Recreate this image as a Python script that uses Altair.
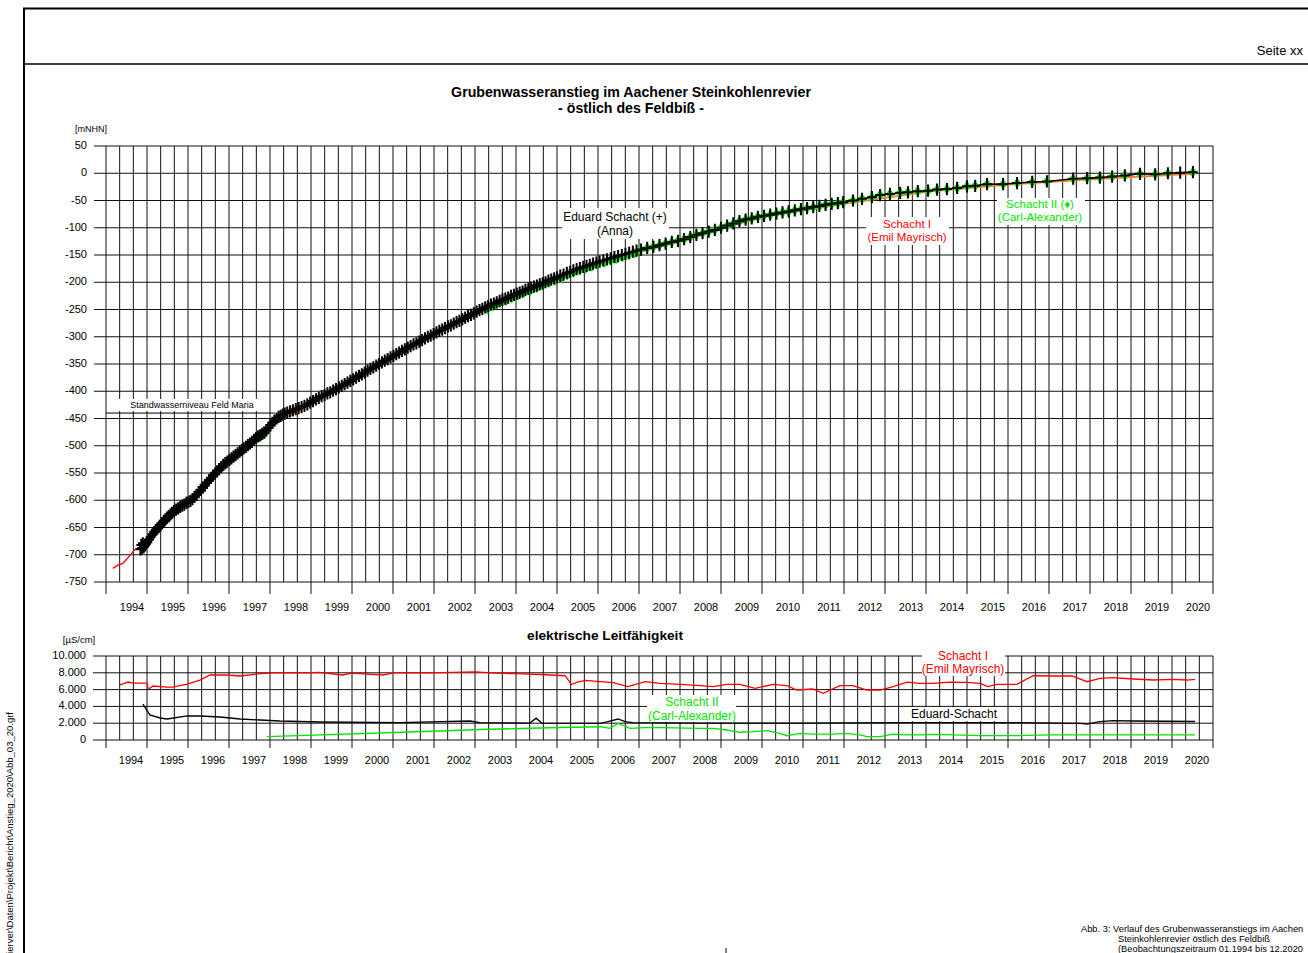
import altair as alt
import pandas as pd

# ---------------- data ----------------
# Water level, Eduard Schacht (Anna)  (+ markers)  [mNHN]
ED_YEAR = [1994.84, 1994.86, 1994.88, 1994.90, 1994.92, 1994.95, 1994.98, 1995.01, 1995.05, 1995.09,
           1995.13, 1995.17, 1995.21, 1995.25, 1995.29, 1995.33, 1995.37, 1995.41, 1995.45, 1995.49,
           1995.53, 1995.57, 1995.61, 1995.66, 1995.71, 1995.76, 1995.81, 1995.86, 1995.91, 1995.96,
           1996.01, 1996.06, 1996.11, 1996.16, 1996.21, 1996.26, 1996.31, 1996.36, 1996.41, 1996.46,
           1996.51, 1996.56, 1996.61, 1996.66, 1996.71, 1996.76, 1996.81, 1996.86, 1996.91, 1996.96,
           1997.01, 1997.06, 1997.11, 1997.16, 1997.21, 1997.26, 1997.31, 1997.36, 1997.41, 1997.46,
           1997.51, 1997.56, 1997.61, 1997.66, 1997.71, 1997.76, 1997.81, 1997.86, 1997.91, 1997.96,
           1998.01, 1998.06, 1998.11, 1998.16, 1998.21, 1998.26, 1998.31, 1998.36, 1998.42, 1998.49,
           1998.56, 1998.63, 1998.70, 1998.77, 1998.84, 1998.91, 1998.98, 1999.05, 1999.12, 1999.19,
           1999.26, 1999.33, 1999.40, 1999.47, 1999.54, 1999.61, 1999.68, 1999.75, 1999.82, 1999.89,
           1999.96, 2000.03, 2000.10, 2000.17, 2000.24, 2000.31, 2000.38, 2000.45, 2000.52, 2000.59,
           2000.66, 2000.73, 2000.80, 2000.87, 2000.94, 2001.01, 2001.08, 2001.15, 2001.22, 2001.29,
           2001.36, 2001.43, 2001.50, 2001.57, 2001.64, 2001.71, 2001.78, 2001.85, 2001.92, 2001.99,
           2002.06, 2002.13, 2002.20, 2002.27, 2002.34, 2002.41, 2002.48, 2002.55, 2002.62, 2002.69,
           2002.76, 2002.83, 2002.90, 2002.97, 2003.04, 2003.11, 2003.18, 2003.25, 2003.32, 2003.39,
           2003.46, 2003.53, 2003.60, 2003.67, 2003.74, 2003.81, 2003.88, 2003.95, 2004.02, 2004.09,
           2004.16, 2004.23, 2004.30, 2004.37, 2004.44, 2004.51, 2004.58, 2004.65, 2004.72, 2004.79,
           2004.86, 2004.93, 2005.00, 2005.08, 2005.16, 2005.24, 2005.32, 2005.40, 2005.48, 2005.56,
           2005.64, 2005.72, 2005.80, 2005.88, 2005.96, 2006.04, 2006.13, 2006.22, 2006.31, 2006.40,
           2006.49, 2006.58, 2006.67, 2006.76, 2006.85, 2006.94, 2007.05, 2007.20, 2007.35, 2007.50,
           2007.65, 2007.80, 2007.95, 2008.10, 2008.25, 2008.40, 2008.55, 2008.70, 2008.85, 2009.00,
           2009.15, 2009.30, 2009.45, 2009.60, 2009.75, 2009.90, 2010.05, 2010.20, 2010.35, 2010.50,
           2010.65, 2010.80, 2010.95, 2011.10, 2011.25, 2011.40, 2011.55, 2011.70, 2011.85, 2011.98,
           2012.22, 2012.44, 2012.68, 2012.88, 2013.12, 2013.37, 2013.56, 2013.80, 2014.05, 2014.27,
           2014.51, 2014.76, 2015.00, 2015.20, 2015.49, 2015.88, 2016.22, 2016.59, 2016.95, 2017.59,
           2017.93, 2018.24, 2018.54, 2018.85, 2019.22, 2019.59, 2019.90, 2020.20, 2020.51]
ED_LEVEL = [-690, -682, -688, -679, -686, -683, -680, -677, -672, -667,
            -663, -659, -655, -652, -649, -646, -642, -638, -635, -632,
            -629, -626, -623, -620, -617, -615, -612, -610, -608, -605,
            -603, -601, -598, -594, -590, -585, -581, -577, -573, -568,
            -563, -559, -555, -551, -547, -543, -539, -535, -532, -529,
            -526, -523, -520, -517, -514, -511, -508, -505, -502, -499,
            -496, -493, -489, -486, -483, -481, -478, -476, -472, -467,
            -462, -458, -454, -450, -447, -445, -443, -441, -439, -437,
            -435, -433, -431, -429, -427, -424, -421, -418, -415, -412,
            -409, -407, -404, -402, -399, -396, -393, -390, -387, -384,
            -381, -378, -375, -372, -369, -366, -362, -359, -356, -353,
            -350, -347, -344, -341, -338, -335, -332, -329, -326, -323,
            -320, -317, -314, -312, -309, -306, -303, -300, -298, -295,
            -292, -289, -287, -284, -281, -279, -276, -273, -271, -268,
            -265, -262, -260, -257, -254, -251, -249, -246, -244, -241,
            -239, -237, -234, -232, -230, -228, -225, -223, -221, -219,
            -217, -214, -212, -210, -208, -206, -204, -202, -200, -197,
            -195, -193, -191, -188, -186, -183, -181, -178, -176, -174,
            -172, -170, -168, -166, -164, -162, -160, -158, -156, -154,
            -152, -150, -148, -146, -144, -142, -140, -137, -135, -132,
            -129, -126, -124, -121, -117, -113, -110, -107, -104, -100,
            -96, -92, -88, -85, -83, -80, -78, -76, -74, -72,
            -70, -68, -66, -64, -62, -60, -58, -56, -55, -53,
            -50, -47, -44, -40, -38, -36, -35, -33, -32, -30,
            -29, -27, -24, -23, -20, -20, -18, -16, -15, -10,
            -9, -8, -6, -4, -1, -2, 0, 1, 2]

# Schacht II (Carl-Alexander)  (diamonds)
CA_YEAR = [1997.78, 1997.83, 1997.88,
           2003.30, 2003.45, 2003.60, 2003.75, 2003.90, 2004.05, 2004.20, 2004.35, 2004.50, 2004.65,
           2004.80, 2004.95, 2005.10, 2005.25, 2005.40, 2005.55, 2005.70, 2005.85, 2006.00, 2006.15,
           2006.30, 2006.45, 2006.60, 2006.75, 2006.90,
           2007.05, 2007.20, 2007.35, 2007.50, 2007.65, 2007.80, 2007.95, 2008.10, 2008.25, 2008.40,
           2008.55, 2008.70, 2008.85, 2009.00, 2009.15, 2009.30, 2009.45, 2009.60, 2009.75, 2009.90,
           2010.05, 2010.20, 2010.35, 2010.50, 2010.65, 2010.80, 2010.95, 2011.10, 2011.25, 2011.40,
           2011.55, 2011.70, 2011.85, 2011.98, 2012.22, 2012.44, 2012.68, 2012.88, 2013.12, 2013.37,
           2013.56, 2013.80, 2014.05, 2014.27, 2014.51, 2014.76, 2015.00, 2015.20, 2015.49, 2015.88,
           2016.22, 2016.59, 2016.95, 2017.59, 2017.93, 2018.24, 2018.54, 2018.85, 2019.22, 2019.59,
           2019.90, 2020.51]
CA_LEVEL = [-482, -479, -477,
            -249, -244, -238, -234, -229, -224, -219, -215, -210, -206,
            -201, -197, -192, -187, -182, -178, -175, -171, -167, -164,
            -160, -157, -153, -150, -147,
            -140, -137, -135, -132, -129, -126, -124, -121, -117, -113,
            -110, -107, -104, -100, -96, -92, -88, -85, -83, -80,
            -78, -76, -74, -72, -70, -68, -66, -64, -62, -60,
            -58, -56, -55, -53, -50, -47, -44, -40, -38, -36,
            -35, -33, -32, -30, -29, -27, -24, -23, -20, -20,
            -18, -16, -15, -10, -9, -8, -6, -4, -1, -2,
            0, 2]

# Schacht I (Emil Mayrisch): early red record and later line
EM_RED_YEAR = [1994.17, 1994.29, 1994.41, 1994.54, 1994.63, 1994.71, 1994.83]
EM_RED_LEVEL = [-725, -719, -716, -705, -697, -690, -686]
EM_YEAR = [1994.85, 1996.0, 1998.0, 2000.0, 2002.0, 2004.0, 2006.0, 2008.0, 2010.0, 2012.0,
           2014.0, 2016.0, 2018.0, 2020.5]
EM_LEVEL = [-687, -605, -465, -381, -296, -224, -165, -125, -80, -56, -34, -21, -11, -1]

# Standwasserniveau Feld Maria
MARIA_LEVEL = [-440]
MARIA_FROM = [1994.0]
MARIA_TO = [1998.12]

# Electrical conductivity [µS/cm]
LF_EM_YEAR = [1994.34, 1994.46, 1994.54, 1994.66, 1995.0, 1995.02, 1995.07, 1995.15, 1995.49, 1995.63,
              1995.98, 1996.29, 1996.54, 1996.95, 1997.27, 1997.68, 1998.07, 1998.9, 1999.2, 1999.76,
              2000.0, 2000.76, 2001.0, 2001.9, 2003.0, 2003.5, 2004.0, 2004.6, 2005.2, 2005.35,
              2005.5, 2005.7, 2005.9, 2006.05, 2006.37, 2006.73, 2007.15, 2007.51, 2008.0, 2008.49,
              2008.8, 2009.15, 2009.46, 2009.83, 2010.27, 2010.61, 2010.85, 2011.24, 2011.49, 2011.9,
              2012.22, 2012.56, 2012.88, 2013.2, 2013.54, 2013.85, 2014.17, 2014.59, 2015.0, 2015.32,
              2015.51, 2015.73, 2016.22, 2016.61, 2017.2, 2017.56, 2017.93, 2018.24, 2018.56, 2019.05,
              2019.54, 2020.02, 2020.37, 2020.56]
LF_EM = [6550, 6780, 6900, 6780, 6780, 6190, 6150, 6430, 6300, 6300,
         6660, 7140, 7740, 7740, 7620, 7860, 7980, 7980, 8050, 7740,
         7950, 7740, 8000, 8000, 8100, 7950, 7900, 7800, 7650, 6600,
         6900, 7100, 7000, 6940, 6820, 6350, 6940, 6740, 6630, 6470,
         6350, 6630, 6630, 6150, 6630, 6470, 5950, 6070, 5560, 6470,
         6470, 5950, 5950, 6350, 6880, 6750, 6750, 6900, 6860, 6750,
         6350, 6630, 6630, 7650, 7620, 7620, 6940, 7340, 7420, 7260,
         7140, 7220, 7140, 7220]

LF_ED_YEAR = [1994.9, 1995.07, 1995.32, 1995.49, 1995.98, 1996.29, 1996.78, 1997.27, 1997.76, 1998.24,
              1999.22, 2001.17, 2002.88, 2003.12, 2004.34, 2004.49, 2004.63, 2006.05, 2006.24, 2006.49,
              2006.66, 2006.85, 2008.49, 2010.93, 2013.37, 2015.8, 2017.76, 2017.93, 2018.24, 2018.56,
              2019.05, 2020.56]
LF_ED = [4280, 2980, 2620, 2500, 2860, 2860, 2740, 2500, 2380, 2260,
         2140, 2060, 2260, 2080, 2020, 2600, 2020, 1980, 2180, 2500,
         2180, 2060, 2020, 2020, 2080, 2080, 1980, 1900, 2180, 2300,
         2260, 2200]

LF_CA_YEAR = [1997.93, 2002.15, 2003.12, 2004.1, 2005.07, 2005.8, 2006.05, 2006.29, 2006.49, 2006.78,
              2007.27, 2008.49, 2008.8, 2009.15, 2009.46, 2009.78, 2010.12, 2010.44, 2010.61, 2010.93,
              2011.24, 2011.73, 2012.07, 2012.39, 2012.56, 2012.88, 2013.2, 2013.54, 2013.85, 2014.17,
              2014.66, 2015.32, 2016.22, 2017.02, 2018.24, 2019.46, 2020.56]
LF_CA = [400, 1070, 1250, 1370, 1490, 1550, 1580, 1390, 1980, 1390,
         1510, 1390, 1390, 1190, 920, 990, 1110, 800, 510, 800,
         710, 710, 800, 600, 390, 390, 710, 600, 600, 680,
         600, 510, 510, 600, 620, 620, 620]

# axes
YEARS = list(range(1994, 2021))
YEAR_TICKS = list(range(1994, 2022))
GRID_X = [1994 + i / 3 for i in range(82)]
LEVEL_TICKS = list(range(-750, 51, 50))
LEVEL_LABELS = [str(v) for v in LEVEL_TICKS]
LF_TICKS = [0, 2000, 4000, 6000, 8000, 10000]
LF_LABELS = ["0", "2.000", "4.000", "6.000", "8.000", "10.000"]

# ---------------- scales ----------------
XS = alt.Scale(domain=[1994, 2021], range=[106, 1213], nice=False, zero=False)
YS = alt.Scale(domain=[-750, 50], range=[582, 146], nice=False, zero=False)
LS = alt.Scale(domain=[0, 10000], range=[740, 656], nice=False, zero=False)

ONE = pd.DataFrame({"k": [0]})
GRID = "#111111"
RED = "#ff0000"
GREEN = "#00e600"
ORANGE = "#f08020"


def X(f="x"):
    return alt.X(f"{f}:Q", scale=XS, axis=None)


def txt(s, x, y, size=11, color="black", bold=False, align="center", angle=0):
    m = alt.Chart(ONE).mark_text(text=s, fontSize=size, color=color,
                                 fontWeight="bold" if bold else "normal",
                                 align=align, baseline="middle", angle=angle)
    return m.encode(x=alt.value(x), y=alt.value(y))


def box(x1, x2, y1, y2):
    return alt.Chart(ONE).mark_rect(color="white").encode(
        x=alt.value(x1), x2=alt.value(x2), y=alt.value(y1), y2=alt.value(y2))


layers = []

# page frame
layers.append(alt.Chart(ONE).mark_rect(fillOpacity=0, stroke="black", strokeWidth=2).encode(
    x=alt.value(24), x2=alt.value(1330), y=alt.value(8.5), y2=alt.value(990)))
layers.append(alt.Chart(ONE).mark_rule(color="black", strokeWidth=1.5).encode(
    x=alt.value(24), x2=alt.value(1308), y=alt.value(64)))
layers.append(alt.Chart(ONE).mark_rule(color="black", strokeWidth=1).encode(
    x=alt.value(726), y=alt.value(948), y2=alt.value(953)))

# ---- top panel grid
gx = pd.DataFrame({"x": GRID_X})
layers.append(alt.Chart(gx).mark_rule(color=GRID, strokeWidth=1).encode(
    x=X(), y=alt.value(146), y2=alt.value(582)))
yt = pd.DataFrame({"x": YEAR_TICKS})
layers.append(alt.Chart(yt).mark_rule(color=GRID, strokeWidth=1).encode(
    x=X(), y=alt.value(582), y2=alt.value(594)))
lv = pd.DataFrame({"v": LEVEL_TICKS, "lab": LEVEL_LABELS})
layers.append(alt.Chart(lv).mark_rule(color=GRID, strokeWidth=1).encode(
    x=alt.value(106), x2=alt.value(1213), y=alt.Y("v:Q", scale=YS, axis=None)))
layers.append(alt.Chart(lv).mark_rule(color=GRID, strokeWidth=1).encode(
    x=alt.value(94), x2=alt.value(106), y=alt.Y("v:Q", scale=YS, axis=None)))
layers.append(alt.Chart(lv).mark_text(fontSize=11, align="right", baseline="middle", color="black").encode(
    x=alt.value(87), y=alt.Y("v:Q", scale=YS, axis=None), text="lab:N"))
yl = pd.DataFrame({"x": YEARS, "lab": [str(y) for y in YEARS]})
layers.append(alt.Chart(yl).mark_text(fontSize=11, align="center", baseline="middle", dx=26, color="black").encode(
    x=X(), y=alt.value(608), text="lab:N"))

# ---- bottom panel grid
layers.append(alt.Chart(gx).mark_rule(color=GRID, strokeWidth=1).encode(
    x=X(), y=alt.value(656), y2=alt.value(740)))
layers.append(alt.Chart(yt).mark_rule(color=GRID, strokeWidth=1).encode(
    x=X(), y=alt.value(740), y2=alt.value(748)))
lf = pd.DataFrame({"c": LF_TICKS, "lab": LF_LABELS})
layers.append(alt.Chart(lf).mark_rule(color=GRID, strokeWidth=1).encode(
    x=alt.value(106), x2=alt.value(1213), y=alt.Y("c:Q", scale=LS, axis=None)))
layers.append(alt.Chart(lf).mark_rule(color=GRID, strokeWidth=1).encode(
    x=alt.value(93), x2=alt.value(106), y=alt.Y("c:Q", scale=LS, axis=None)))
layers.append(alt.Chart(lf).mark_text(fontSize=11, align="right", baseline="middle", color="black").encode(
    x=alt.value(86), y=alt.Y("c:Q", scale=LS, axis=None), text="lab:N"))
layers.append(alt.Chart(yl).mark_text(fontSize=11, align="center", baseline="middle", dx=25, color="black").encode(
    x=X(), y=alt.value(761), text="lab:N"))

# ---- label boxes (white, cover the grid)
layers += [box(562, 669, 208, 239), box(866, 949, 217, 245), box(997, 1085, 198, 225),
           box(922, 1005, 648, 676), box(647, 736, 695, 722), box(900, 998, 707, 721),
           box(110, 262, 399, 411)]

# ---- top panel data
maria = pd.DataFrame({"x": MARIA_FROM, "x2": MARIA_TO, "v": MARIA_LEVEL})
layers.append(alt.Chart(maria).mark_rule(color="black", strokeWidth=1).encode(
    x=X(), x2="x2:Q", y=alt.Y("v:Q", scale=YS, axis=None)))

em_red = pd.DataFrame({"x": EM_RED_YEAR, "v": EM_RED_LEVEL})
layers.append(alt.Chart(em_red).mark_line(color=RED, strokeWidth=1.3).encode(
    x=X(), y=alt.Y("v:Q", scale=YS, axis=None)))
em = pd.DataFrame({"x": EM_YEAR, "v": EM_LEVEL})
layers.append(alt.Chart(em).mark_line(color=ORANGE, strokeWidth=1.8).encode(
    x=X(), y=alt.Y("v:Q", scale=YS, axis=None)))
ed = pd.DataFrame({"x": ED_YEAR, "v": ED_LEVEL})
layers.append(alt.Chart(ed).mark_line(color="black", strokeWidth=1.6).encode(
    x=X(), y=alt.Y("v:Q", scale=YS, axis=None)))
ca = pd.DataFrame({"x": CA_YEAR, "v": CA_LEVEL})
layers.append(alt.Chart(ca).mark_point(shape="M0,-1L0.8,0L0,1L-0.8,0Z", filled=True, size=110,
                                       color=GREEN, opacity=1).encode(
    x=X(), y=alt.Y("v:Q", scale=YS, axis=None)))
layers.append(alt.Chart(ed).mark_point(shape="M-0.8,0L0.8,0M0,-1L0,1", filled=False, size=150,
                                       color="black", strokeWidth=2, opacity=1).encode(
    x=X(), y=alt.Y("v:Q", scale=YS, axis=None)))

# ---- bottom panel data
lem = pd.DataFrame({"x": LF_EM_YEAR, "c": LF_EM})
layers.append(alt.Chart(lem).mark_line(color=RED, strokeWidth=1.3).encode(
    x=X(), y=alt.Y("c:Q", scale=LS, axis=None)))
led = pd.DataFrame({"x": LF_ED_YEAR, "c": LF_ED})
layers.append(alt.Chart(led).mark_line(color="black", strokeWidth=1.3).encode(
    x=X(), y=alt.Y("c:Q", scale=LS, axis=None)))
lca = pd.DataFrame({"x": LF_CA_YEAR, "c": LF_CA})
layers.append(alt.Chart(lca).mark_line(color=GREEN, strokeWidth=1.3).encode(
    x=X(), y=alt.Y("c:Q", scale=LS, axis=None)))

# ---- texts
layers += [
    txt("Seite xx", 1303, 51, size=13, align="right"),
    txt("Grubenwasseranstieg im Aachener Steinkohlenrevier", 631, 93, size=14.2, bold=True),
    txt("- östlich des Feldbiß -", 631, 109, size=14.2, bold=True),
    txt("[mNHN]", 91, 129, size=9),
    txt("Standwasserniveau Feld Maria", 192, 405, size=9),
    txt("Eduard Schacht (+)", 615, 217, size=12),
    txt("(Anna)", 615, 231, size=12),
    txt("Schacht I", 907, 225, size=11.5, color=RED),
    txt("(Emil Mayrisch)", 907, 238, size=11.5, color=RED),
    txt("Schacht II (\u2666)", 1040, 205, size=11.5, color=GREEN),
    txt("(Carl-Alexander)", 1040, 218, size=11.5, color=GREEN),
    txt("elektrische Leitfähigkeit", 605, 636, size=13.7, bold=True),
    txt("[µS/cm]", 79, 640, size=9.5),
    txt("Schacht I", 963, 656, size=12, color=RED),
    txt("(Emil Mayrisch)", 963, 669, size=12, color=RED),
    txt("Schacht II", 692, 702, size=12, color=GREEN),
    txt("(Carl-Alexander)", 692, 716, size=12, color=GREEN),
    txt("Eduard-Schacht", 954, 714, size=12),
    txt("Abb. 3: Verlauf des Grubenwasseranstiegs im Aachen", 1081, 929, size=9.3, align="left"),
    txt("Steinkohlenrevier östlich des Feldbiß", 1118, 939, size=9.3, align="left"),
    txt("(Beobachtungszeitraum 01.1994 bis 12.2020", 1118, 948.5, size=9.3, align="left"),
    txt("ierver\\Daten\\Projekt\\Bericht\\Anstieg_2020\\Abb_03_20.grf", 10, 712, size=9.5,
        align="right", angle=270),
]

chart = alt.layer(*layers).resolve_scale(x="independent", y="independent").properties(
    width=1308, height=953, autosize=alt.AutoSizeParams(type="none"), padding=0,
    background="white"
).configure(font="Liberation Sans").configure_view(strokeWidth=0)

chart.save("out.html", embed_options={"renderer": "svg", "actions": False})
